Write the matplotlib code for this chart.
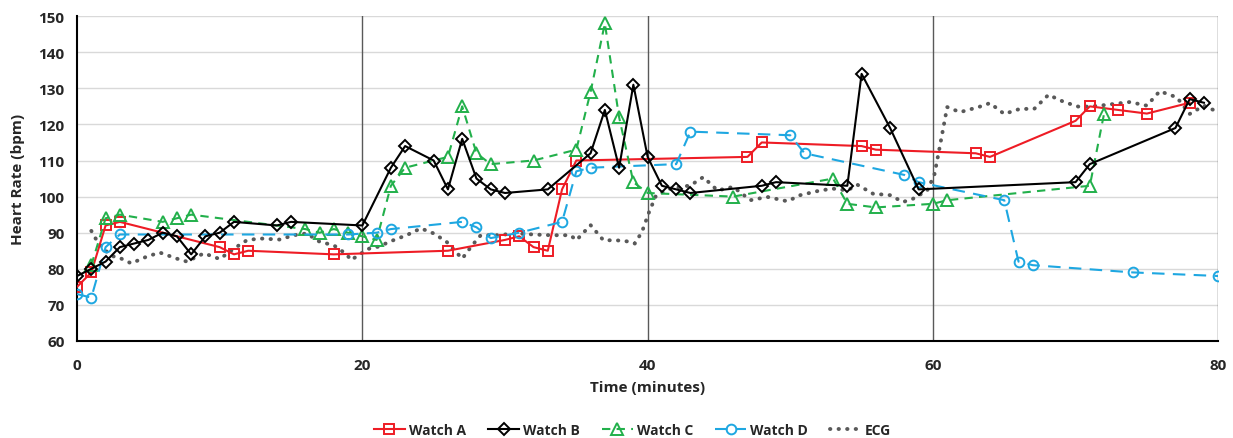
import matplotlib
matplotlib.use("Agg")
import matplotlib.pyplot as plt

plt.rcParams['font.family'] = ['Open Sans', 'DejaVu Sans']
plt.rcParams['font.weight'] = 'bold'

# data
watch_a_t = [0, 1, 2, 3, 10, 11, 12, 18, 26, 30, 31, 32, 33, 34, 35, 47, 48, 55, 56,
             63, 64, 70, 71, 73, 75, 78]
watch_a_hr = [75, 79, 92, 93, 86, 84, 85, 84, 85, 88, 89, 86, 85, 102, 110, 111, 115, 114, 113,
              112, 111, 121, 125, 124, 123, 126]

watch_b_t = [0, 1, 2, 3, 4, 5, 6, 7, 8, 9, 10, 11, 14, 15, 20, 22, 23, 25, 26, 27, 28, 29, 30,
             33, 36, 37, 38, 39, 40, 41, 42, 43, 48, 49, 54, 55, 57, 59, 70, 71, 77, 78, 79]
watch_b_hr = [78, 80, 82, 86, 87, 88, 90, 89, 84, 89, 90, 93, 92, 93, 92, 108, 114, 110, 102, 116,
              105, 102, 101, 102, 112, 124, 108, 131, 111, 103, 102, 101, 103, 104, 103, 134, 119,
              102, 104, 109, 119, 127, 126]

watch_c_t = [1, 2, 3, 6, 7, 8, 16, 17, 18, 19, 20, 21, 22, 23, 26, 27, 28, 29, 32, 35, 36, 37,
             38, 39, 40, 46, 53, 54, 56, 60, 61, 71, 72]
watch_c_hr = [81, 94, 95, 93, 94, 95, 91, 90, 91, 90, 89, 88, 103, 108, 111, 125, 112, 109, 110,
              113, 129, 148, 122, 104, 101, 100, 105, 98, 97, 98, 99, 103, 123]

watch_d_t = [0, 1, 2, 3, 19, 21, 22, 27, 28, 29, 31, 34, 35, 36, 42, 43, 50, 51, 58, 59, 65, 66,
             67, 74, 80]
watch_d_hr = [73, 72, 86, 89.5, 89.5, 90, 91, 93, 91.5, 88.5, 90, 93, 107, 108, 109, 118, 117, 112,
              106, 104, 99, 82, 81, 79, 78]

ecg_t = [1.0, 1.5, 2.0, 2.5, 3.0, 3.8, 4.9, 5.8, 7.0, 7.7, 8.9, 10.0, 11.0, 11.9, 12.8, 14.2,
         15.2, 16.1, 17.0, 18.0, 18.9, 19.2, 20.4, 21.2, 21.9, 23.1, 24.1, 25.0, 25.9, 27.0,
         27.7, 28.3, 29.4, 30.8, 32.0, 33.2, 34.6, 35.0, 36.0, 36.9, 37.8, 38.8, 39.1, 39.6,
         40.1, 40.6, 41.6, 43.0, 43.9, 44.9, 46.0, 47.2, 48.4, 49.8, 50.7, 52.1, 53.0, 54.0,
         54.7, 55.8, 57.0, 57.9, 58.6, 59.6, 60.1, 60.5, 61.0, 61.9, 63.2, 64.0, 65.0, 66.1,
         67.1, 68.1, 69.2, 70.3, 71.7, 73.8, 75.0, 75.9, 77.1, 78.0, 79.0, 80.0]
ecg_hr = [90.5, 87, 85, 83.5, 83, 81.5, 83.4, 84.5, 82.8, 82, 84.3, 82.7, 85.6, 87.9, 88.4, 88.1,
          89.3, 89.8, 87.5, 86.5, 84, 82.4, 85.5, 86.2, 87.5, 89.3, 91.2, 89.8, 87.5, 82.8,
          86.5, 89.3, 89.3, 89.8, 89.5, 89.3, 89.3, 87.9, 92.1, 87.9, 87.9, 87.5, 87, 90.2,
          95.7, 100.4, 102.2, 103.1, 105.4, 101.7, 102.7, 99, 99.9, 98.7, 100.4, 101.7, 102.2, 101.7,
          103.3, 100.8, 100.4, 98.5, 99.4, 101.7, 106, 114.2, 124.8, 123.4, 124.8, 125.9, 122.9, 124.3,
          124.3, 128.2, 126.2, 124.8, 125.2, 126.2, 125.2, 129.2, 127.5, 122.9, 125.2, 123.4]

fig = plt.figure(figsize=(12.33, 4.39), dpi=100)
ax = fig.add_axes([0.0625, 0.221, 0.9255, 0.740])

for y in range(60, 151, 10):
    ax.axhline(y, color='#d9d9d9', lw=1, zorder=0)
for x in (20, 40, 60, 80):
    ax.axvline(x, color='#595959', lw=1, zorder=0.5)

mk = dict(markerfacecolor='none', markeredgewidth=1.4)
ax.plot(watch_a_t, watch_a_hr, color='#ee1c25', lw=1.5, marker='s', markersize=7,
        markeredgecolor='#ee1c25', label='Watch A', zorder=3, **mk)
ax.plot(watch_b_t, watch_b_hr, color='black', lw=1.5, marker='D', markersize=6,
        markeredgecolor='black', label='Watch B', zorder=4, **mk)
ax.plot(watch_c_t, watch_c_hr, color='#22b04b', lw=1.5, ls=(0, (4, 3)), marker='^', markersize=8,
        markeredgecolor='#22b04b', label='Watch C', zorder=3, **mk)
ax.plot(watch_d_t, watch_d_hr, color='#1ea7e1', lw=1.5, ls=(0, (6, 4)), marker='o', markersize=7,
        markeredgecolor='#1ea7e1', label='Watch D', zorder=3, **mk)
ax.plot(ecg_t, ecg_hr, color='#595959', lw=2.8, ls=(0, (0.1, 2.1)), dash_capstyle='round',
        label='ECG', zorder=2)

ax.set_xlim(0, 80)
ax.set_ylim(60, 150)
ax.set_xticks([0, 20, 40, 60, 80])
ax.set_yticks(range(60, 151, 10))
ax.tick_params(length=0, labelsize=11)
ax.tick_params(axis='x', pad=12)
ax.tick_params(axis='y', pad=9)
for lab in ax.get_xticklabels() + ax.get_yticklabels():
    lab.set_fontweight('bold')
    lab.set_color('#262626')

for s in ('top', 'right'):
    ax.spines[s].set_visible(False)
for s in ('left', 'bottom'):
    ax.spines[s].set_color('black')
    ax.spines[s].set_linewidth(1.5)

ax.set_xlabel('Time (minutes)', fontsize=11, fontweight='bold', labelpad=6, color='#262626')
ax.set_ylabel('Heart Rate (bpm)', fontsize=11, fontweight='bold', labelpad=10, color='#262626')

leg = fig.legend(loc='center', bbox_to_anchor=(0.513, 0.018), ncol=5, frameon=False,
                 handlelength=2.2, columnspacing=1.6, handletextpad=0.3,
                 prop={'weight': 'bold', 'size': 10})
for t in leg.get_texts():
    t.set_color('#262626')

fig.savefig('out.png', dpi=100)
